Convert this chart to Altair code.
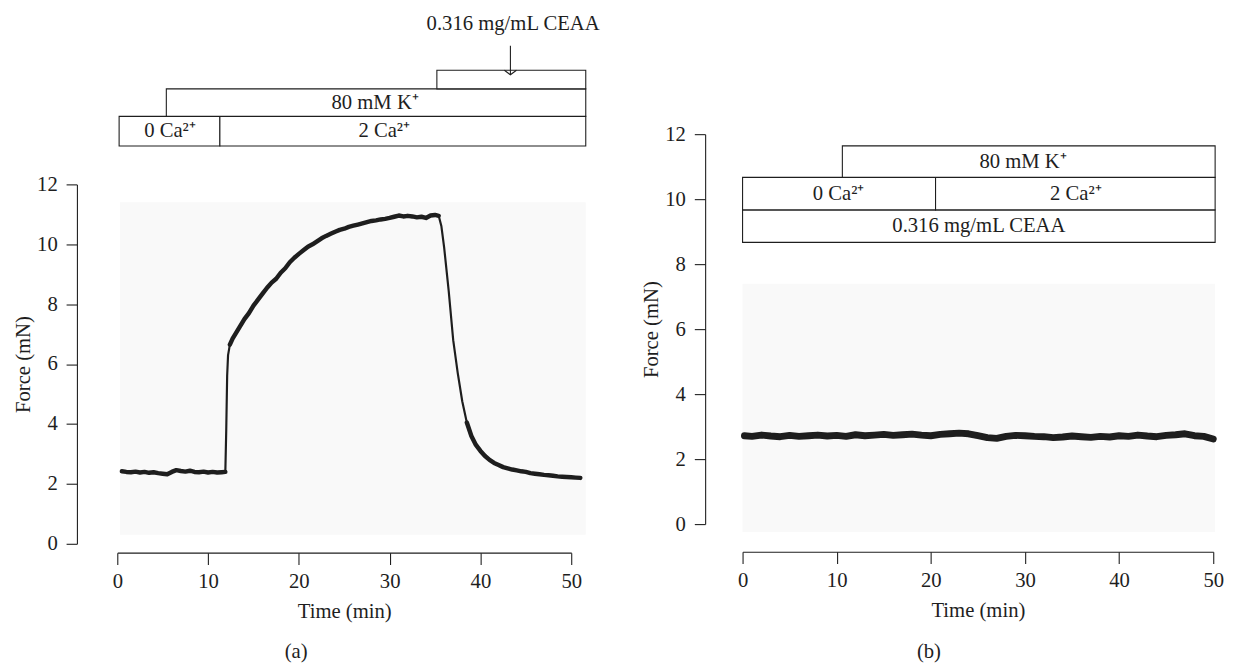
import altair as alt
import pandas as pd

FONT = "Liberation Serif"
FS = 21
INK = "#1e1e1e"
BG = "#f9f9f9"

# ---------------- data ----------------
# Panel (a): force trace
a_time = [0.5, 1.0, 1.5, 2.0, 2.5, 3.0, 3.5, 4.0, 4.5, 5.0,
          5.5, 6.0, 6.5, 7.0, 7.5, 8.0, 8.5, 9.0, 9.5, 10.0,
          10.5, 11.0, 11.5, 11.9, 12.0, 12.1, 12.2, 12.4, 12.7, 13.0,
          13.5, 14.0, 14.5, 15.0, 15.5, 16.0, 16.5, 17.0, 17.5, 18.0,
          18.5, 19.0, 19.5, 20.0, 20.5, 21.0, 21.5, 22.0, 22.5, 23.0,
          23.5, 24.0, 24.5, 25.0, 25.5, 26.0, 26.5, 27.0, 27.5, 28.0,
          28.5, 29.0, 29.5, 30.0, 30.5, 31.0, 31.5, 32.0, 32.5, 33.0,
          33.5, 34.0, 34.5, 35.0, 35.4, 35.7, 36.0, 36.5, 37.0, 37.5,
          38.0, 38.5, 39.0, 39.5, 40.0, 40.5, 41.0, 41.5, 42.0, 42.5,
          43.0, 43.5, 44.0, 44.5, 45.0, 45.5, 46.0, 46.5, 47.0, 47.5,
          48.0, 48.5, 49.0, 49.5, 50.0, 50.5, 51.0]
a_force = [2.42, 2.40, 2.39, 2.41, 2.38, 2.40, 2.37, 2.39, 2.36, 2.34,
           2.32, 2.40, 2.46, 2.43, 2.41, 2.44, 2.40, 2.39, 2.41, 2.38,
           2.40, 2.38, 2.39, 2.40, 3.80, 5.60, 6.30, 6.65, 6.85, 7.00,
           7.25, 7.50, 7.70, 7.95, 8.15, 8.35, 8.55, 8.72, 8.85, 9.05,
           9.20, 9.40, 9.55, 9.68, 9.80, 9.92, 10.00, 10.10, 10.20, 10.28,
           10.35, 10.42, 10.48, 10.52, 10.58, 10.62, 10.66, 10.70, 10.74, 10.78,
           10.80, 10.83, 10.85, 10.88, 10.92, 10.96, 10.93, 10.95, 10.93, 10.90,
           10.92, 10.88, 10.96, 10.98, 10.95, 10.60, 9.90, 8.45, 6.80, 5.70,
           4.75, 4.05, 3.60, 3.30, 3.10, 2.93, 2.80, 2.70, 2.63, 2.56,
           2.52, 2.48, 2.45, 2.42, 2.40, 2.36, 2.34, 2.32, 2.30, 2.29,
           2.27, 2.25, 2.24, 2.23, 2.22, 2.21, 2.20]

# Panel (b): force trace
b_time = [0.2, 1, 2, 3, 4, 5, 6, 7, 8, 9,
          10, 11, 12, 13, 14, 15, 16, 17, 18, 19,
          20, 21, 22, 23, 24, 25, 26, 27, 28, 29,
          30, 31, 32, 33, 34, 35, 36, 37, 38, 39,
          40, 41, 42, 43, 44, 45, 46, 47, 48, 49, 50]
b_force = [2.72, 2.70, 2.74, 2.71, 2.69, 2.73, 2.70, 2.72, 2.74, 2.71,
           2.73, 2.70, 2.75, 2.72, 2.74, 2.76, 2.73, 2.75, 2.77, 2.74,
           2.72, 2.76, 2.78, 2.80, 2.78, 2.72, 2.66, 2.64, 2.70, 2.73,
           2.72, 2.70, 2.69, 2.66, 2.68, 2.71, 2.69, 2.67, 2.70, 2.68,
           2.72, 2.70, 2.74, 2.71, 2.69, 2.73, 2.75, 2.78, 2.72, 2.70, 2.62]

x_ticks = [0, 10, 20, 30, 40, 50]
y_ticks = [0, 2, 4, 6, 8, 10, 12]

# Panel (a): solution bars above the trace
a_box_x = [0.2, 11.3, 5.4, 35.2]
a_box_x2 = [11.3, 51.6, 51.6, 51.6]
a_box_y = [13.28, 13.28, 14.27, 15.19]
a_box_y2 = [14.27, 14.27, 15.19, 15.81]
a_lab_text = ["0 Ca²⁺", "2 Ca²⁺", "80 mM K⁺"]
a_lab_x = [5.8, 29.4, 28.4]
a_lab_y = [13.77, 13.77, 14.73]
a_drug_text = ["0.316 mg/mL CEAA"]
a_drug_x = [43.6]
a_drug_y = [17.71]
a_arrow_x = [43.3]
a_arrow_tip = [15.66]
a_arrow_tail = [16.63]
a_bg_x, a_bg_x2, a_bg_y, a_bg_y2 = [0.3], [51.6], [0.3], [11.4]
a_tag = ["(a)"]
a_tag_x, a_tag_y = [19.7], [-3.62]

# Panel (b): solution bars
b_box_x = [0.0, 0.0, 20.5, 10.6]
b_box_x2 = [50.2, 20.5, 50.2, 50.2]
b_box_y = [8.67, 9.67, 9.67, 10.67]
b_box_y2 = [9.67, 10.67, 10.67, 11.64]
b_lab_text = ["0.316 mg/mL CEAA", "0 Ca²⁺", "2 Ca²⁺", "80 mM K⁺"]
b_lab_x = [25.1, 10.2, 35.4, 29.8]
b_lab_y = [9.17, 10.17, 10.17, 11.15]
b_bg_x, b_bg_x2, b_bg_y, b_bg_y2 = [0.0], [50.2], [-0.24], [7.4]
b_tag = ["(b)"]
b_tag_x, b_tag_y = [19.8], [-3.94]

# ---------------- helpers ----------------
H = 416


def xq(W, xoff):
    return alt.X("x:Q",
                 scale=alt.Scale(domain=[0, 50], range=[0, W], nice=False, zero=False),
                 axis=alt.Axis(values=x_ticks, title="Time (min)", offset=xoff,
                               tickSize=12, labelPadding=6, titlePadding=10,
                               format="d", labelFlush=False, labelOverlap=False))


def yq(yrange, yoff):
    return alt.Y("y:Q",
                 scale=alt.Scale(domain=[0, 12], range=yrange, nice=False, zero=False),
                 axis=alt.Axis(values=y_ticks, title="Force (mN)", offset=yoff,
                               tickSize=11, labelPadding=9, titlePadding=3,
                               format="d", labelFlush=False, labelOverlap=False))


def text_layer(texts, xs, ys, X, Y, opacity=1.0, baseline="middle"):
    df = pd.DataFrame({"x": xs, "y": ys, "t": texts})
    return alt.Chart(df).mark_text(font=FONT, fontSize=FS, color=INK, align="center",
                                   baseline=baseline, opacity=opacity).encode(
        x=X, y=Y, text="t:N")


def line_layer(ts, vs, X, Y, w):
    return alt.Chart(pd.DataFrame({"x": ts, "y": vs})).mark_line(
        color=INK, strokeWidth=w, strokeJoin="round", strokeCap="round").encode(x=X, y=Y)


def panel(W, yrange, xoff, yoff, bg, trace_segments, boxes, labels, extras):
    X = xq(W, xoff)
    Y = yq(yrange, yoff)
    bgx, bgx2, bgy, bgy2 = bg
    bg_layer = alt.Chart(pd.DataFrame({"x": bgx, "x2": bgx2, "y": bgy, "y2": bgy2})).mark_rect(
        color=BG).encode(x=X, x2="x2:Q", y=Y, y2="y2:Q")
    lines = [line_layer(ts, vs, X, Y, w) for ts, vs, w in trace_segments]
    bx, bx2, by, by2 = boxes
    rects = alt.Chart(pd.DataFrame({"x": bx, "x2": bx2, "y": by, "y2": by2})).mark_rect(
        fill="white", stroke=INK, strokeWidth=1.1).encode(x=X, x2="x2:Q", y=Y, y2="y2:Q")
    lt, lx, ly = labels
    labs = text_layer(lt, lx, ly, X, Y)
    layers = [bg_layer] + lines + [rects, labs] + [f(X, Y) for f in extras]
    return alt.layer(*layers).properties(width=W, height=H)


# panel (a) extras
def a_arrow(X, Y):
    return alt.Chart(pd.DataFrame({"x": a_arrow_x, "y": a_arrow_tip, "y2": a_arrow_tail})).mark_rule(
        color=INK, strokeWidth=1.1).encode(x=X, y=Y, y2="y2:Q")


def a_head(X, Y):
    return alt.Chart(pd.DataFrame({"x": a_arrow_x, "y": a_arrow_tip})).mark_point(
        shape="M-1,-0.75L0,0L1,-0.75", filled=False, size=150, color=INK, strokeWidth=1.1,
        opacity=1).encode(x=X, y=Y)


def a_drug(X, Y):
    return text_layer(a_drug_text, a_drug_x, a_drug_y, X, Y, baseline="top")


def a_tag_layer(X, Y):
    return text_layer(a_tag, a_tag_x, a_tag_y, X, Y)


def a_edge(X, Y):
    return alt.Chart(pd.DataFrame({"x": [54.0], "y": [5.0]})).mark_point(
        opacity=0, size=4).encode(x=X, y=Y)


def b_tag_layer(X, Y):
    return text_layer(b_tag, b_tag_x, b_tag_y, X, Y)


def b_edge(X, Y):
    return alt.Chart(pd.DataFrame({"x": [-12.8], "y": [5.0]})).mark_point(
        opacity=0, size=4).encode(x=X, y=Y)


def b_top(X, Y):
    return text_layer(["0.316 mg/mL CEAA"], [25.0], [15.72], X, Y, opacity=0, baseline="top")


THICK, THIN = 4.5, 2.2
# pieces of trace (a): slow parts drawn thick, fast transitions thin
a_pieces = [(0, 24, THICK), (23, 28, THIN), (27, 75, THICK), (74, 83, THIN), (81, len(a_time), THICK)]
a_segments = [(a_time[i:j], a_force[i:j], w) for i, j, w in a_pieces]

left = panel(461, [416, 51], 9, 41,
             (a_bg_x, a_bg_x2, a_bg_y, a_bg_y2),
             a_segments,
             (a_box_x, a_box_x2, a_box_y, a_box_y2),
             (a_lab_text, a_lab_x, a_lab_y),
             [a_arrow, a_head, a_drug, a_tag_layer, a_edge])

right = panel(478, [396, 0], 8, 38,
              (b_bg_x, b_bg_x2, b_bg_y, b_bg_y2),
              [(b_time, b_force, 7)],
              (b_box_x, b_box_x2, b_box_y, b_box_y2),
              (b_lab_text, b_lab_x, b_lab_y),
              [b_tag_layer, b_edge, b_top])

chart = alt.hconcat(left, right, spacing=12).properties(
    padding={"left": 5, "top": 0, "right": 5, "bottom": 0}
).configure_view(stroke=None).configure_axis(
    domainColor=INK, tickColor=INK, labelColor=INK, titleColor=INK,
    labelFont=FONT, titleFont=FONT, labelFontSize=FS, titleFontSize=FS,
    titleFontWeight="normal", grid=False, domainWidth=1.1, tickWidth=1.1
)

chart.save("out.html", embed_options={"renderer": "svg", "actions": False})
